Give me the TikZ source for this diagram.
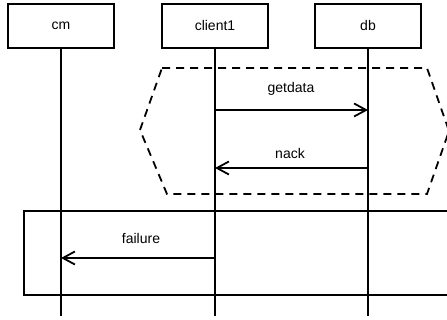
\documentclass[tikz,border=0pt]{standalone}
\usepackage{fontspec}
\setmainfont{Liberation Sans}
\usetikzlibrary{arrows.meta}
\begin{document}
\begin{tikzpicture}[x=1pt,y=-1pt,
  line width=1.8pt,
  txt/.style={font=\fontsize{14}{16}\selectfont},
  actor/.style={draw,txt,minimum width=106pt,minimum height=44pt,inner sep=0pt},
  msg/.style={draw,-{Straight Barb[length=12pt,width=13pt,line width=1.8pt]}},
  msglabel/.style={txt,inner sep=0pt},
  frame/.style={draw},
  altframe/.style={draw,dash pattern=on 8pt off 6pt}]
  \useasboundingbox (0,0) rectangle (447,320);
  \clip (0,0) rectangle (447,320);

  % participants
  \node[actor] (cm) at (61,26) {cm};
  \node[actor] (client1) at (215,26) {client1};
  \node[actor] (db) at (368,26) {db};

  % lifeline ends
  \coordinate (cmEnd) at (61,316);
  \coordinate (clEnd) at (215,316);
  \coordinate (dbEnd) at (368,316);
  \draw (cm.south) -- (cmEnd);
  \draw (client1.south) -- (clEnd);
  \draw (db.south) -- (dbEnd);

  % dashed hexagonal fragment
  \coordinate (h1) at (162,68);
  \coordinate (h2) at (427,68);
  \coordinate (h3) at (449,131);
  \coordinate (h4) at (427,194);
  \coordinate (h5) at (167,194);
  \coordinate (h6) at (140,130);
  \draw[altframe] (h1) -- (h2) -- (h3) -- (h4) -- (h5) -- (h6) -- cycle;

  % rectangular fragment
  \coordinate (f1) at (24,211);
  \coordinate (f2) at (460,295);
  \draw[frame] (f1) rectangle (f2);

  % messages
  \coordinate (getS) at (215,110);
  \coordinate (getT) at (368,110);
  \draw[msg] (getS) -- (getT);
  \node[msglabel] (getL) at (291,89) {getdata};

  \coordinate (nackS) at (368,168);
  \coordinate (nackT) at (215,168);
  \draw[msg] (nackS) -- (nackT);
  \node[msglabel] (nackL) at (290,153) {nack};

  \coordinate (failS) at (215,258);
  \coordinate (failT) at (61,258);
  \draw[msg] (failS) -- (failT);
  \node[msglabel] (failL) at (141,238) {failure};
\end{tikzpicture}
\end{document}
